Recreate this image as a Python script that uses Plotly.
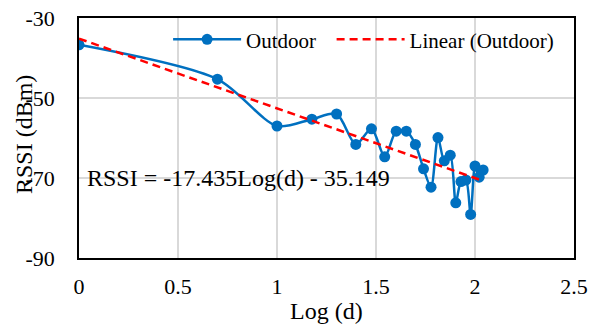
import plotly.graph_objects as go

# Data
log_d = [0.0, 0.699, 1.0, 1.176, 1.301, 1.398, 1.477, 1.544, 1.602, 1.653,
         1.699, 1.740, 1.778, 1.813, 1.845, 1.875, 1.903, 1.929, 1.954, 1.978,
         2.0, 2.021, 2.041]
rssi = [-36.7, -45.3, -57.0, -55.3, -54.0, -61.6, -57.7, -64.7, -58.3, -58.3,
        -61.6, -67.7, -72.3, -59.9, -65.7, -64.3, -76.2, -70.9, -70.5, -79.1,
        -67.0, -69.8, -68.0]
slope = -17.435
intercept = -35.149
trend_x = [0.0, 2.041]
trend_y = [slope * x + intercept for x in trend_x]
x_ticks = [0, 0.5, 1, 1.5, 2, 2.5]
x_tick_labels = ["0", "0.5", "1", "1.5", "2", "2.5"]
y_ticks = [-90, -70, -50, -30]
y_tick_labels = ["-90", "-70", "-50", "-30"]
series_names = ["Outdoor", "Linear (Outdoor)"]

FONT = "Liberation Serif"
BLUE = "#0070C0"
RED = "#FF0000"
NBSP = "\u00a0"

fig = go.Figure()
fig.add_trace(go.Scatter(
    x=log_d, y=rssi, mode="lines+markers", name=series_names[0] + NBSP * 2,
    line=dict(color=BLUE, width=2.5, shape="spline", smoothing=0.8),
    marker=dict(color=BLUE, size=11),
))
fig.add_trace(go.Scatter(
    x=trend_x, y=trend_y, mode="lines", name=series_names[1],
    line=dict(color=RED, width=2.5, dash="8px,5px"),
))

fig.add_annotation(
    x=0.03, y=-70, xref="x", yref="y", xanchor="left", yanchor="middle",
    text="RSSI = -17.435Log(d) - 35.149", showarrow=False,
    font=dict(family=FONT, size=24, color="black"),
)
fig.add_annotation(
    x=-0.111, y=0.5125, xref="paper", yref="paper", xanchor="center", yanchor="middle",
    text="RSSI (dBm)", textangle=-90, showarrow=False,
    font=dict(family=FONT, size=24, color="black"),
)
fig.add_annotation(
    x=0.5, y=-0.221, xref="paper", yref="paper", xanchor="center", yanchor="middle",
    text="Log (d)", showarrow=False,
    font=dict(family=FONT, size=24, color="black"),
)

fig.update_layout(
    template="none",
    width=590, height=325,
    margin=dict(l=79, r=16, t=18, b=67),
    paper_bgcolor="white", plot_bgcolor="white",
    font=dict(family=FONT, size=22, color="black"),
    showlegend=True,
    legend=dict(
        orientation="h", x=0.18, y=0.995, xanchor="left", yanchor="top",
        bgcolor="rgba(0,0,0,0)", font=dict(family=FONT, size=21, color="black"),
        itemwidth=68, tracegroupgap=0,
    ),
    xaxis=dict(
        range=[0, 2.5], tickvals=x_ticks, ticktext=x_tick_labels,
        showgrid=True, gridcolor="#D9D9D9", gridwidth=1.5,
        showline=True, linecolor="black", linewidth=1.5, mirror=True,
        ticks="", ticklabelstandoff=8, zeroline=False,
        tickfont=dict(family=FONT, size=22, color="black"),
    ),
    yaxis=dict(
        range=[-90, -30], tickvals=y_ticks, ticktext=y_tick_labels,
        showgrid=True, gridcolor="#D9D9D9", gridwidth=1.5,
        showline=True, linecolor="black", linewidth=1.5, mirror=True,
        ticks="", ticklabelstandoff=18, zeroline=False,
        tickfont=dict(family=FONT, size=22, color="black"),
    ),
)

fig.write_html("out.html")
